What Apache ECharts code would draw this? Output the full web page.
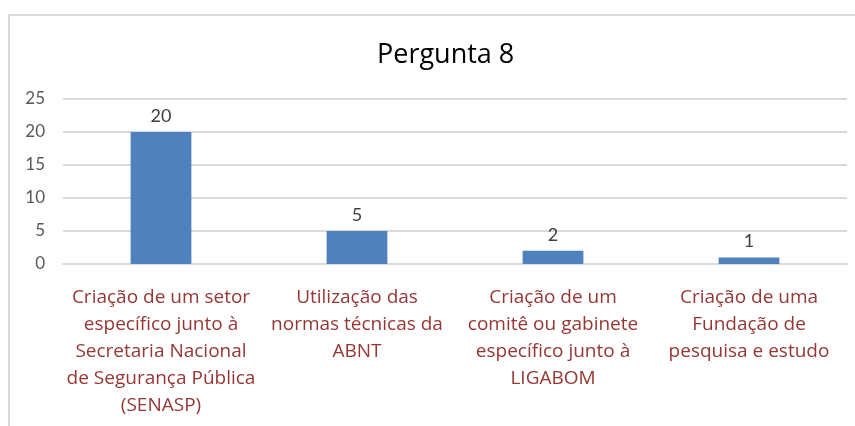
<!DOCTYPE html>
<html>
<head>
<meta charset="utf-8">
<script src="https://cdn.jsdelivr.net/npm/echarts@6/dist/echarts.min.js"></script>
<style>
	html, body { margin: 0; padding: 0; background: #fff; }
	#frame { position: absolute; left: 8px; top: 14px; width: 870px; height: 440px; border: 2px solid #d9d9d9; box-sizing: border-box; }
	#main { position: absolute; left: 0; top: 0; width: 855px; height: 426px; }
</style>
</head>
<body>
<div id="frame"></div>
<div id="main"></div>
<script>
// categorias do eixo x (quebras de linha como no original)
var categories = [
	'Criação de um setor\nespecífico junto à\nSecretaria Nacional\nde Segurança Pública\n(SENASP)',
	'Utilização das\nnormas técnicas da\nABNT',
	'Criação de um\ncomitê ou gabinete\nespecífico junto à\nLIGABOM',
	'Criação de uma\nFundação de\npesquisa e estudo'
]
var values = [20, 5, 2, 1]
var yTicks = [0, 5, 10, 15, 20, 25]

var font = 'Lato, "Open Sans", sans-serif'
var wide = '"Open Sans", Lato, sans-serif'
var myChart = echarts.init(document.getElementById('main'))
var option = {
	animation: false,
	title: {
		text: 'Pergunta 8',
		left: 372,
		top: 37,
		textStyle: { fontFamily: wide, fontSize: 27, fontWeight: 'normal', color: '#000' }
	},
	grid: { left: 63, right: 8, top: 99, bottom: 162 },
	xAxis: {
		type: 'category',
		data: categories,
		axisTick: { show: false },
		axisLine: { lineStyle: { color: '#d9d9d9', width: 2 } },
		axisLabel: {
			interval: 0,
			margin: 20,
			fontFamily: wide,
			fontSize: 19,
			lineHeight: 27,
			color: '#953735',
			align: 'center'
		}
	},
	yAxis: {
		type: 'value',
		min: yTicks[0],
		max: yTicks[yTicks.length - 1],
		interval: 5,
		axisLine: { show: false },
		axisTick: { show: false },
		axisLabel: { fontFamily: font, fontSize: 17, color: '#595959', margin: 18 },
		splitLine: { lineStyle: { color: '#d9d9d9', width: 2 } }
	},
	series: [{
		type: 'bar',
		data: values,
		barWidth: '31%',
		itemStyle: { color: '#4f81bd' },
		label: {
			show: true,
			position: 'top',
			distance: 7,
			fontFamily: font,
			fontSize: 18,
			color: '#404040'
		}
	}]
}
myChart.setOption(option)
</script>
</body>
</html>
